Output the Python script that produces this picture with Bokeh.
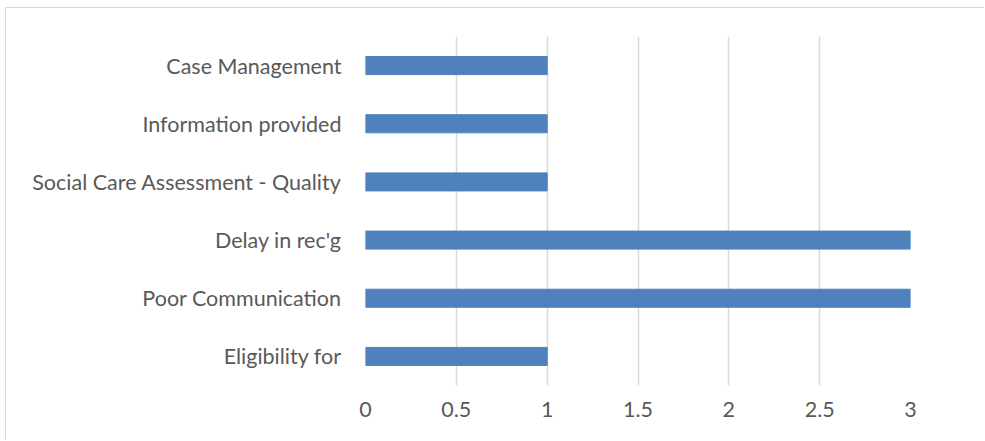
from bokeh.plotting import figure
from bokeh.models import FactorRange, Range1d, FixedTicker
from bokeh.embed import file_html
from bokeh.resources import INLINE

categories = ["Case Management", "Information provided", "Social Care Assessment - Quality",
              "Delay in rec'g", "Poor Communication", "Eligibility for"]
values = [1, 1, 1, 3, 3, 1]
x_ticks = [0, 0.5, 1, 1.5, 2, 2.5, 3]

factors = list(reversed(categories))
vals = list(reversed(values))

p = figure(width=979, height=433, y_range=FactorRange(*factors, range_padding=0),
           x_range=Range1d(0, 3), output_backend="svg", toolbar_location=None,
           min_border_left=359, min_border_right=75, min_border_top=28, min_border_bottom=56)
p.styles = {"margin-left": "5px", "margin-top": "7px",
            "border-left": "1px solid #d9d9d9", "border-top": "1px solid #d9d9d9"}
p.hbar(y=factors, right=vals, left=0, height=0.31, color="#4f81bd")
p.outline_line_color = None
p.ygrid.grid_line_color = None
p.xgrid.grid_line_color = "#d9d9d9"
p.xgrid.grid_line_width = 1.5
p.xaxis.ticker = FixedTicker(ticks=x_ticks)
for ax in (p.xaxis[0], p.yaxis[0]):
    ax.axis_line_color = None
    ax.major_tick_line_color = None
    ax.minor_tick_line_color = None
    ax.major_label_text_font = "Lato"
    ax.major_label_text_font_size = "21.5px"
    ax.major_label_text_color = "#595959"
p.yaxis.major_label_standoff = 18
p.xaxis.major_label_standoff = 10

open("out.html", "w").write(file_html(p, INLINE))
